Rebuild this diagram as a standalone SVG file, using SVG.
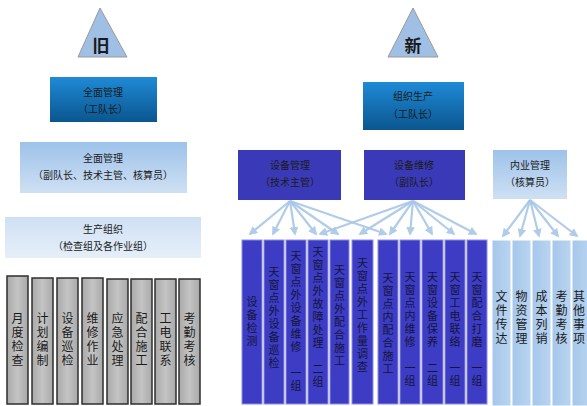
<svg xmlns="http://www.w3.org/2000/svg" width="587" height="406" viewBox="0 0 587 406">
<defs>
<linearGradient id="gDark" x1="0" y1="0" x2="0" y2="1"><stop offset="0" stop-color="#1f8ad6"/><stop offset="1" stop-color="#0a568f"/></linearGradient>
<linearGradient id="gLight" x1="0" y1="0" x2="0" y2="1"><stop offset="0" stop-color="#9dc2ea"/><stop offset="1" stop-color="#cfe0f3"/></linearGradient>
<linearGradient id="gPale" x1="0" y1="0" x2="0" y2="1"><stop offset="0" stop-color="#cfe0f4"/><stop offset="1" stop-color="#e6eff9"/></linearGradient>
<linearGradient id="gGray" x1="0" y1="0" x2="1" y2="0"><stop offset="0" stop-color="#a9a9a9"/><stop offset="0.5" stop-color="#c4c4c4"/><stop offset="1" stop-color="#a9a9a9"/></linearGradient>
<linearGradient id="gCol" x1="0" y1="0" x2="1" y2="0"><stop offset="0" stop-color="#a5c7ea"/><stop offset="1" stop-color="#b9d4f0"/></linearGradient>
<marker id="ah" viewBox="0 0 10 10" refX="8" refY="5" markerWidth="4" markerHeight="4" orient="auto"><path d="M0,0 L10,5 L0,10 z" fill="#a9c7e6"/></marker>
<style>
text{font-family:"Noto Sans CJK SC","Liberation Sans",sans-serif;fill:#1a1a1a}
.bx{font-size:10px;text-anchor:middle;fill:#1a1a1a}
.tri{fill:#9fbfe4;stroke:#9a9a9a;stroke-width:1}
.tl{font-size:17px;font-weight:bold;text-anchor:middle;fill:#1a1a1a}
.gray{fill:url(#gGray);stroke:#2e2e2e;stroke-width:1.5}
.dk{fill:#3c3cc4;stroke:#8c8ce0;stroke-width:1}
.lc{fill:url(#gCol);stroke:#ffffff;stroke-width:1}
.vt{font-size:11px;writing-mode:vertical-rl;text-anchor:middle;letter-spacing:2px;fill:#15153a}
.vg{font-size:12px;writing-mode:vertical-rl;text-anchor:middle;letter-spacing:2px;fill:#1a1a1a}
.conn{stroke:#a9c7e6;stroke-width:2.2;fill:none;marker-end:url(#ah);opacity:0.9}
</style>
</defs>
<rect width="587" height="406" fill="#ffffff"/>

<g id="tri-old"><polygon class="tri" points="100,8 78,57 127,57"/><text class="tl" x="101" y="52">旧</text></g>
<g id="tri-new"><polygon class="tri" points="413,8 388,57 438,57"/><text class="tl" x="413" y="52">新</text></g>

<g id="old-top"><rect x="50" y="77" width="107" height="45" fill="url(#gDark)"/><text class="bx" x="103" y="96">全面管理</text><text class="bx" x="103" y="113">（工队长）</text></g>
<g id="old-mid"><rect x="20" y="142" width="167" height="51" fill="url(#gLight)"/><text class="bx" x="103" y="162">全面管理</text><text class="bx" x="103" y="179">（副队长、技术主管、核算员）</text></g>
<g id="old-prod"><rect x="5" y="217" width="196" height="41" fill="url(#gPale)"/><text class="bx" x="103" y="233">生产组织</text><text class="bx" x="103" y="250">（检查组及各作业组）</text></g>

<g id="old-cols">
<g id="oc1"><rect class="gray" x="7" y="276" width="21" height="128"/><text class="vg" x="17.5" y="340">月度检查</text></g>
<g id="oc2"><rect class="gray" x="32" y="278" width="21" height="126"/><text class="vg" x="42.5" y="340">计划编制</text></g>
<g id="oc3"><rect class="gray" x="57" y="278" width="21" height="126"/><text class="vg" x="67.5" y="340">设备巡检</text></g>
<g id="oc4"><rect class="gray" x="82" y="278" width="21" height="126"/><text class="vg" x="92.5" y="340">维修作业</text></g>
<g id="oc5"><rect class="gray" x="107" y="279" width="21" height="125"/><text class="vg" x="117.5" y="340">应急处理</text></g>
<g id="oc6"><rect class="gray" x="131" y="279" width="21" height="125"/><text class="vg" x="141.5" y="340">配合施工</text></g>
<g id="oc7"><rect class="gray" x="155" y="279" width="21" height="125"/><text class="vg" x="165.5" y="340">工电联系</text></g>
<g id="oc8"><rect class="gray" x="179" y="279" width="21" height="125"/><text class="vg" x="189.5" y="340">考勤考核</text></g>
</g>

<g id="new-top"><rect x="363" y="82" width="101" height="48" fill="url(#gDark)"/><text class="bx" x="413" y="100">组织生产</text><text class="bx" x="413" y="118">（工队长）</text></g>
<g id="equip-mgmt"><rect x="238" y="150" width="103" height="50" fill="#3a3ab8"/><text class="bx" x="290" y="169">设备管理</text><text class="bx" x="290" y="186">（技术主管）</text></g>
<g id="equip-maint"><rect x="364" y="150" width="101" height="50" fill="#3a3ab8"/><text class="bx" x="414" y="169">设备维修</text><text class="bx" x="414" y="186">（副队长）</text></g>
<g id="office-mgmt"><rect x="493" y="150" width="74" height="49" fill="url(#gLight)"/><text class="bx" x="530" y="169">内业管理</text><text class="bx" x="530" y="186">（核算员）</text></g>

<g id="connectors">
<line class="conn" x1="290" y1="201" x2="250" y2="234"/>
<line class="conn" x1="290" y1="201" x2="273" y2="234"/>
<line class="conn" x1="290" y1="201" x2="295" y2="234"/>
<line class="conn" x1="290" y1="201" x2="316" y2="234"/>
<line class="conn" x1="290" y1="201" x2="338" y2="234"/>
<line class="conn" x1="290" y1="201" x2="386" y2="234"/>
<line class="conn" x1="413" y1="201" x2="320" y2="234"/>
<line class="conn" x1="413" y1="201" x2="360" y2="234"/>
<line class="conn" x1="413" y1="201" x2="390" y2="234"/>
<line class="conn" x1="413" y1="201" x2="410" y2="234"/>
<line class="conn" x1="413" y1="201" x2="432" y2="234"/>
<line class="conn" x1="413" y1="201" x2="454" y2="234"/>
<line class="conn" x1="413" y1="201" x2="476" y2="234"/>
<line class="conn" x1="530" y1="200" x2="503" y2="236"/>
<line class="conn" x1="530" y1="200" x2="520" y2="236"/>
<line class="conn" x1="530" y1="200" x2="539" y2="236"/>
<line class="conn" x1="530" y1="200" x2="558" y2="236"/>
<line class="conn" x1="530" y1="200" x2="577" y2="236"/>
</g>

<g id="new-cols">
<g id="nc1"><rect class="dk" x="242" y="240" width="20" height="164"/><text class="vt" x="252" y="322">设备检测</text></g>
<g id="nc2"><rect class="dk" x="264" y="240" width="20" height="164"/><text class="vt" x="274" y="318">天窗点外设备巡检</text></g>
<g id="nc3"><rect class="dk" x="286" y="240" width="20" height="164"/><text class="vt" x="296" y="322">天窗点外设备维修　一组</text></g>
<g id="nc4"><rect class="dk" x="308" y="240" width="20" height="164"/><text class="vt" x="318" y="318">天窗点外故障处理　二组</text></g>
<g id="nc5"><rect class="dk" x="330" y="240" width="19" height="164"/><text class="vt" x="339.5" y="316">天窗点外配合施工</text></g>
<g id="nc6"><rect class="dk" x="352" y="240" width="21" height="164"/><text class="vt" x="362.5" y="316">天窗点外工作量调查</text></g>
<g id="nc7"><rect class="dk" x="378" y="240" width="20" height="164"/><text class="vt" x="388" y="324">天窗点内配合施工</text></g>
<g id="nc8"><rect class="dk" x="400" y="240" width="20" height="164"/><text class="vt" x="410" y="330">天窗点内维修　一组</text></g>
<g id="nc9"><rect class="dk" x="422" y="240" width="21" height="164"/><text class="vt" x="432.5" y="330">天窗设备保养　二组</text></g>
<g id="nc10"><rect class="dk" x="445" y="240" width="20" height="164"/><text class="vt" x="455" y="330">天窗工电联络　一组</text></g>
<g id="nc11"><rect class="dk" x="467" y="240" width="20" height="164"/><text class="vt" x="477" y="330">天窗配合打磨　一组</text></g>
</g>

<g id="office-cols">
<g id="lc1"><rect class="lc" x="492" y="240" width="19" height="166"/><text class="vg" x="501.5" y="318">文件传达</text></g>
<g id="lc2"><rect class="lc" x="512" y="240" width="19" height="166"/><text class="vg" x="521.5" y="318">物资管理</text></g>
<g id="lc3"><rect class="lc" x="532" y="240" width="19" height="166"/><text class="vg" x="541.5" y="318">成本列销</text></g>
<g id="lc4"><rect class="lc" x="552" y="240" width="19" height="166"/><text class="vg" x="561.5" y="318">考勤考核</text></g>
<g id="lc5"><rect class="lc" x="572" y="240" width="19" height="166"/><text class="vg" x="579" y="318">其他事项</text></g>
</g>
</svg>
